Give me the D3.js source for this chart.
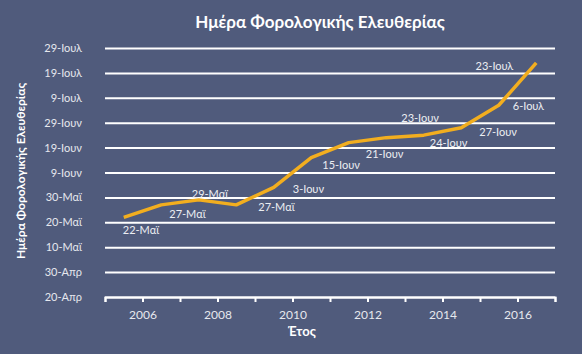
<!DOCTYPE html>
<html>
<head>
<meta charset="utf-8">
<script src="https://cdn.jsdelivr.net/npm/d3@7"></script>
<style>
  html, body { margin: 0; padding: 0; background: #505b7c; }
  svg { display: block; font-family: Lato, "Open Sans", sans-serif; }
</style>
</head>
<body>
<div id="chart"></div>
<script>
  const width = 582;
  const height = 354;

  // data
  const years = [2005, 2006, 2007, 2008, 2009, 2010, 2011, 2012, 2013, 2014, 2015, 2016];
  const taxDays = ["05-22", "05-27", "05-29", "05-27", "06-03", "06-15", "06-21", "06-23", "06-24", "06-27", "07-06", "07-23"];
  const monthNames = ["Ιαν", "Φεβ", "Μαρ", "Απρ", "Μαϊ", "Ιουν", "Ιουλ", "Αυγ", "Σεπ", "Οκτ", "Νοε", "Δεκ"];
  const xTickYears = [2006, 2008, 2010, 2012, 2014, 2016];
  const chartTitle = "Ημέρα Φορολογικής Ελευθερίας";
  const xTitle = "Έτος";
  const yTitle = "Ημέρα Φορολογικής Ελευθερίας";

  // label placement per point (dx, dy, anchor) -- hand tuned like the original
  const labelPlace = [
    [-1, 13, "start"], [8, 9, "start"], [-7, -6, "start"], [22, 2, "start"],
    [19, 2, "start"], [11, 8, "start"], [17, 12, "start"], [15, -19, "start"],
    [6, 8, "start"], [18, 4, "start"], [14, 1, "start"], [-23, 3, "end"]
  ];

  const parseDay = d3.timeParse("%Y-%m-%d");
  const toDate = s => parseDay("2015-" + s);
  const fmtDay = d => d.getDate() + "-" + monthNames[d.getMonth()];

  const yStart = toDate("04-20");
  const yTicks = d3.range(0, 101, 10).map(k => d3.timeDay.offset(yStart, k));

  const x = d3.scaleLinear().domain([2005, 2017]).range([105, 555]);
  const y = d3.scaleTime().domain([yStart, yTicks[yTicks.length - 1]]).range([297, 48]);

  const svg = d3.select("#chart").append("svg")
    .attr("width", width)
    .attr("height", height);

  svg.append("rect")
    .attr("width", width).attr("height", height)
    .attr("fill", "#505b7c");

  // gridlines + y labels
  let yAxis = svg.append("g")
    .attr("transform", "translate(105,0)")
    .call(d3.axisLeft(y).tickValues(yTicks).tickFormat(fmtDay).tickSize(-450).tickPadding(23));
  yAxis.select(".domain").remove();
  yAxis.selectAll(".tick line")
    .attr("stroke", "#ffffff")
    .attr("stroke-width", 2);
  yAxis.selectAll(".tick text")
    .attr("fill", "#e6e8ee")
    .style("font-size", "11px")
    .style("font-family", "Lato, sans-serif");

  // x axis
  let xAxis = svg.append("g")
    .attr("transform", "translate(0,297)")
    .call(d3.axisBottom(x).tickValues(d3.range(2005, 2018)).tickFormat(d => xTickYears.includes(d) ? d : "").tickSize(5).tickSizeOuter(5).tickPadding(8));
  xAxis.select(".domain").attr("stroke", "#ffffff").attr("stroke-width", 2);
  xAxis.selectAll(".tick line").attr("stroke", "#ffffff").attr("stroke-width", 2);
  xAxis.selectAll(".tick text")
    .attr("fill", "#e6e8ee")
    .style("font-size", "12px")
    .style("font-family", "Lato, sans-serif");

  // line
  const points = years.map((yr, i) => ({ year: yr + 0.5, date: toDate(taxDays[i]) }));
  svg.append("path")
    .datum(points)
    .attr("fill", "none")
    .attr("stroke", "#f2ae1f")
    .attr("stroke-width", 3.5)
    .attr("stroke-linejoin", "round")
    .attr("d", d3.line().x(d => x(d.year)).y(d => y(d.date)));

  // point labels
  svg.append("g").selectAll("text")
    .data(points)
    .join("text")
    .attr("x", (d, i) => x(d.year) + labelPlace[i][0])
    .attr("y", (d, i) => y(d.date) + labelPlace[i][1])
    .attr("dy", "0.35em")
    .attr("text-anchor", (d, i) => labelPlace[i][2])
    .attr("fill", "#eceef2")
    .style("font-size", "11px")
    .text(d => fmtDay(d.date));

  // titles
  svg.append("text")
    .attr("x", 320).attr("y", 22)
    .attr("dy", "0.35em")
    .attr("text-anchor", "middle")
    .attr("fill", "#ffffff")
    .style("font-size", "17px")
    .style("font-weight", "bold")
    .text(chartTitle);

  svg.append("text")
    .attr("x", 302).attr("y", 331)
    .attr("dy", "0.35em")
    .attr("text-anchor", "middle")
    .attr("fill", "#ffffff")
    .style("font-size", "13px")
    .style("font-weight", "bold")
    .text(xTitle);

  svg.append("text")
    .attr("transform", "translate(21,171) rotate(-90)")
    .attr("dy", "0.35em")
    .attr("text-anchor", "middle")
    .attr("fill", "#ffffff")
    .style("font-size", "12px")
    .style("font-weight", "bold")
    .text(yTitle);
</script>
</body>
</html>
